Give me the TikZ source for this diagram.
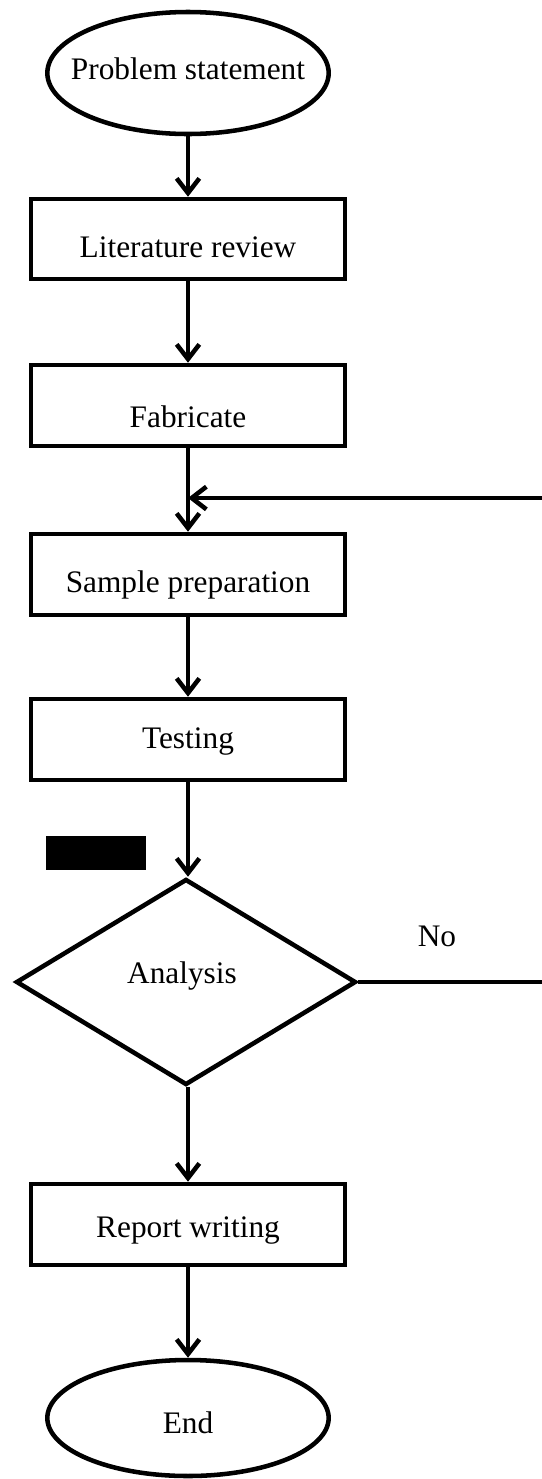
\documentclass[tikz,border=0pt]{standalone}
\usepackage{fontspec}
\setmainfont{Liberation Serif}
\usetikzlibrary{shapes.geometric,arrows.meta}
\newlength\pxu
\setlength\pxu{0.75pt}
\newcommand\ctext[2]{\smash{\makebox[0pt][c]{\raisebox{#1\pxu}{#2}}}}
\begin{document}
\begin{tikzpicture}[x=0.75pt,y=-0.75pt,line width=3.4pt,
  every node/.style={font=\fontsize{23.5}{27}\selectfont, inner sep=0pt},
  box/.style={draw, rectangle, minimum width=235.5pt, minimum height=60.75pt},
  term/.style={draw, ellipse, minimum width=211pt},
  dec/.style={draw, diamond, minimum width=255pt, minimum height=154.5pt},
  arr/.style={-{Straight Barb[length=11pt,width=17pt]}}
]
\useasboundingbox (0,0) rectangle (542,1479);

\node[term, minimum height=91.5pt] (ps) at (188,73) {\ctext{-6}{Problem statement}};
\node[box, minimum height=60pt] (lit) at (188,239) {\ctext{-18}{Literature review}};
\node[box] (fab) at (188,405.5) {\ctext{-21.5}{Fabricate}};
\node[box] (smp) at (188,574.5) {\ctext{-17.5}{Sample preparation}};
\node[box] (tst) at (188,739.5) {\ctext{-9}{Testing}};
\node[dec] (an) at (186,982) {\ctext{-1}{\hspace*{-8\pxu}Analysis}};
\node[box] (rep) at (188,1224.5) {\ctext{-13}{Report writing}};
\node[term, minimum height=87pt] (end) at (188,1418) {\ctext{-15}{End}};

\node[fill=black, minimum width=75pt, minimum height=25.5pt] (blk) at (96,853) {};
\node (no) at (437,946) {\ctext{0}{No}};

\coordinate (fbR) at (542,498);
\coordinate (noR) at (542,982);

\draw[arr] (ps.south) -- (ps.south |- lit.north);
\draw[arr] (lit.south) -- (fab.north);
\draw[arr] (fab.south) -- (smp.north);
\draw[arr] (fbR) -- (fab.south |- fbR);
\draw[arr] (smp.south) -- (tst.north);
\draw[arr] (tst.south) -- (tst.south |- an.north);
\draw[arr] (an.south -| rep.north) -- (rep.north);
\draw[arr] (rep.south) -- (end.north);
\draw (an.east) -- (noR);
\end{tikzpicture}
\end{document}
